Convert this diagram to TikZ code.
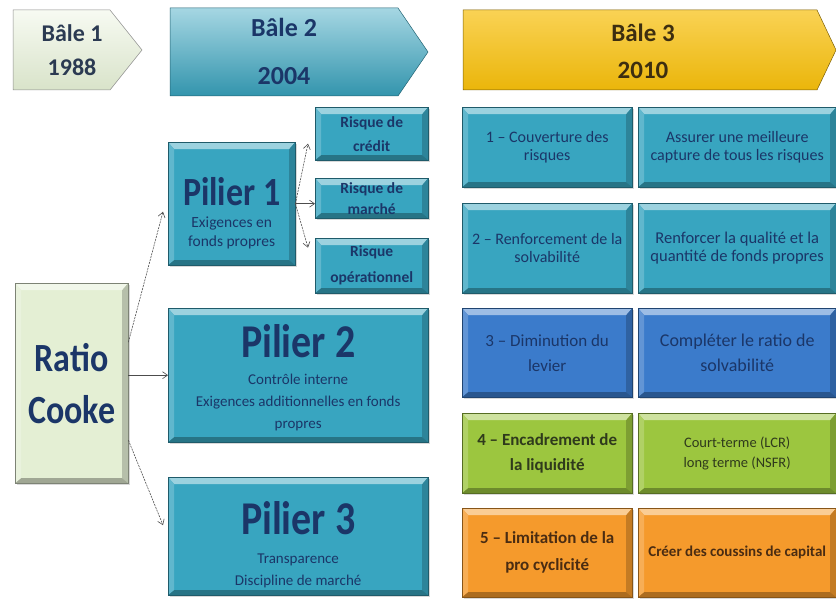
\documentclass[tikz,border=0pt]{standalone}
\usepackage{fontspec}
\setmainfont{Carlito}
\newfontfamily\narrowfont[FakeStretch=0.85]{Carlito}
\usetikzlibrary{arrows.meta,calc,shadows}
\definecolor{tealb}{HTML}{38A5C0}
\definecolor{blueb}{HTML}{3B7BCB}
\definecolor{greenb}{HTML}{9CC63F}
\definecolor{orangeb}{HTML}{F59A2C}
\definecolor{goldb}{HTML}{F7BF0B}
\definecolor{paleg}{HTML}{E4EFD4}
\definecolor{navyt}{HTML}{1B3668}
\definecolor{olivet}{HTML}{2F3A1C}
\definecolor{brownt}{HTML}{4A2C12}
\definecolor{slatet}{HTML}{2B3A52}
\definecolor{goldt}{HTML}{3D2E10}
\tikzset{
  bev/.style={fill=#1, draw=#1!55!black, line width=0.4pt,
    drop shadow={shadow xshift=1.5pt, shadow yshift=-1.5pt, opacity=0.3},
    path picture={
      \path (path picture bounding box.north west) coordinate (bvA)
            (path picture bounding box.north east) coordinate (bvB)
            (path picture bounding box.south east) coordinate (bvC)
            (path picture bounding box.south west) coordinate (bvD);
      \fill[#1!50!white] (bvA) -- (bvB) -- ([shift={(-6pt,-7pt)}]bvB) -- ([shift={(6pt,-7pt)}]bvA) -- cycle;
      \fill[#1!80!white] (bvA) -- ([shift={(6pt,-7pt)}]bvA) -- ([shift={(6pt,5pt)}]bvD) -- (bvD) -- cycle;
      \fill[#1!80!black] (bvB) -- (bvC) -- ([shift={(-6pt,5pt)}]bvC) -- ([shift={(-6pt,-7pt)}]bvB) -- cycle;
      \fill[#1!70!black] (bvD) -- (bvC) -- ([shift={(-6pt,5pt)}]bvC) -- ([shift={(6pt,5pt)}]bvD) -- cycle;
    }},
  box/.style={rectangle, anchor=north west, inner sep=2pt, align=center},
  txt/.style={align=center, inner sep=0pt},
  conn/.style={-{Straight Barb[length=5pt,width=7pt]}, draw=black!70, line width=0.6pt},
  dconn/.style={conn, dash pattern=on 2pt off 1pt},
}
\begin{document}
\begin{tikzpicture}[x=1pt,y=-1pt]
\useasboundingbox (0,0) rectangle (836,604);

% ---- era arrows
\path[top color=paleg!30!white, bottom color=paleg!95!black, draw=black!45, line width=0.5pt]
  (13,10) -- (110,10) -- (142,50) -- (110,90) -- (13,90) -- cycle;
\node[txt, text=slatet, font=\bfseries\fontsize{24}{34}\selectfont] (b1) at (72,50) {Bâle 1\\1988};

\path[top color=tealb!45!white, bottom color=tealb!90!black, draw=tealb!60!black, line width=0.5pt]
  (170,8) -- (398,8) -- (428,52) -- (398,96) -- (170,96) -- cycle;
\node[txt, text=navyt, font=\bfseries\fontsize{26}{48}\selectfont] (b2) at (284,51) {Bâle 2\\2004};

\path[top color=goldb!70!white, bottom color=goldb!95!black, draw=goldb!50!black, line width=0.5pt]
  (463,10) -- (817,10) -- (836,50) -- (817,90) -- (463,90) -- cycle;
\node[txt, text=goldt, font=\bfseries\fontsize{25}{37}\selectfont] (b3) at (643,51) {Bâle 3\\2010};

% ---- left part
\node[box, bev=paleg, minimum width=113pt, minimum height=200pt, text=navyt,
      font=\narrowfont\bfseries\fontsize{40}{52}\selectfont] (rc) at (15,283) {Ratio\\Cooke};

\node[box, bev=tealb, minimum width=127pt, minimum height=123pt] (p1) at (168,142) {};
\node[txt, text=navyt, font=\fontsize{15.5}{19}\selectfont] (p1t) at ($(p1.center)+(0,10)$)
  {{\narrowfont\bfseries\fontsize{40}{40}\selectfont Pilier 1}\\[3pt]Exigences en\\fonds propres};

\node[box, bev=tealb, minimum width=113pt, minimum height=53pt, text=navyt,
      font=\bfseries\fontsize{15.5}{24}\selectfont] (rk1) at (315,107) {Risque de\\crédit};
\node[box, bev=tealb, minimum width=113pt, minimum height=40pt, text=navyt,
      font=\bfseries\fontsize{15.5}{21}\selectfont] (rk2) at (315,178) {Risque de\\marché};
\node[box, bev=tealb, minimum width=113pt, minimum height=55pt, text=navyt,
      font=\bfseries\fontsize{15.5}{26}\selectfont] (rk3) at (315,238) {Risque\\opérationnel};

\node[box, bev=tealb, minimum width=260pt, minimum height=134pt] (p2) at (168,308) {};
\node[txt, text=navyt, font=\fontsize{15}{22}\selectfont] (p2t) at ($(p2.center)+(0,3)$)
  {{\narrowfont\bfseries\fontsize{47}{47}\selectfont Pilier 2}\\[5pt]Contrôle interne\\Exigences additionnelles en fonds\\propres};

\node[box, bev=tealb, minimum width=260pt, minimum height=118pt] (p3) at (168,477) {};
\node[txt, text=navyt, font=\fontsize{15}{22}\selectfont] (p3t) at ($(p3.center)+(0,9)$)
  {{\narrowfont\bfseries\fontsize{47}{47}\selectfont Pilier 3}\\[7pt]Transparence\\Discipline de marché};

% ---- connectors
\draw[dconn] ([yshift=41pt]rc.east) -- ([xshift=-5pt,yshift=-8pt]p1.west);
\draw[conn] (rc.east |- p2.west) -- (p2.west);
\draw[dconn] ([yshift=-57pt]rc.east) -- ([xshift=-5pt,yshift=11pt]p3.west);
\draw[dconn] (p1.east) -- ([xshift=-7pt,yshift=-10pt]rk1.west);
\draw[conn] (p1.east) -- (p1.east -| rk2.west);
\draw[dconn] (p1.east) -- ([xshift=-7pt,yshift=18pt]rk3.west);

% ---- Bale 3 table
\node[box, bev=tealb, minimum width=170pt, minimum height=80pt, text=navyt, font=\fontsize{16}{18}\selectfont] (r1a) at (462,107) {1 – Couverture des\\risques};
\node[box, bev=tealb, minimum width=198pt, minimum height=80pt, text=navyt, font=\fontsize{16}{18}\selectfont] (r1b) at (638,107) {Assurer une meilleure\\capture de tous les risques};
\node[box, bev=tealb, minimum width=170pt, minimum height=90pt, text=navyt, font=\fontsize{16}{18}\selectfont] (r2a) at (462,203) {2 – Renforcement de la\\solvabilité};
\node[box, bev=tealb, minimum width=198pt, minimum height=90pt, text=navyt, font=\fontsize{16.5}{18}\selectfont] (r2b) at (638,203) {Renforcer la qualité et la\\quantité de fonds propres};
\node[box, bev=blueb, minimum width=170pt, minimum height=89pt, text=navyt, font=\fontsize{17}{25}\selectfont] (r3a) at (462,308) {3 – Diminution du\\levier};
\node[box, bev=blueb, minimum width=198pt, minimum height=89pt, text=navyt, font=\fontsize{18}{25}\selectfont] (r3b) at (638,308) {Compléter le ratio de\\solvabilité};
\node[box, bev=greenb, minimum width=170pt, minimum height=80pt, text=olivet, font=\bfseries\fontsize{17}{25}\selectfont] (r4a) at (462,413) {4 – Encadrement de\\la liquidité};
\node[box, bev=greenb, minimum width=198pt, minimum height=80pt, text=olivet, font=\fontsize{14.5}{20}\selectfont] (r4b) at (638,413) {Court-terme (LCR)\\long terme (NSFR)};
\node[box, bev=orangeb, minimum width=170pt, minimum height=89pt, text=brownt, font=\bfseries\fontsize{17}{27}\selectfont] (r5a) at (462,508) {5 – Limitation de la\\pro cyclicité};
\node[box, bev=orangeb, minimum width=198pt, minimum height=89pt, text=brownt, font=\bfseries\fontsize{15}{20}\selectfont] (r5b) at (638,508) {Créer des coussins de capital};
\end{tikzpicture}
\end{document}
